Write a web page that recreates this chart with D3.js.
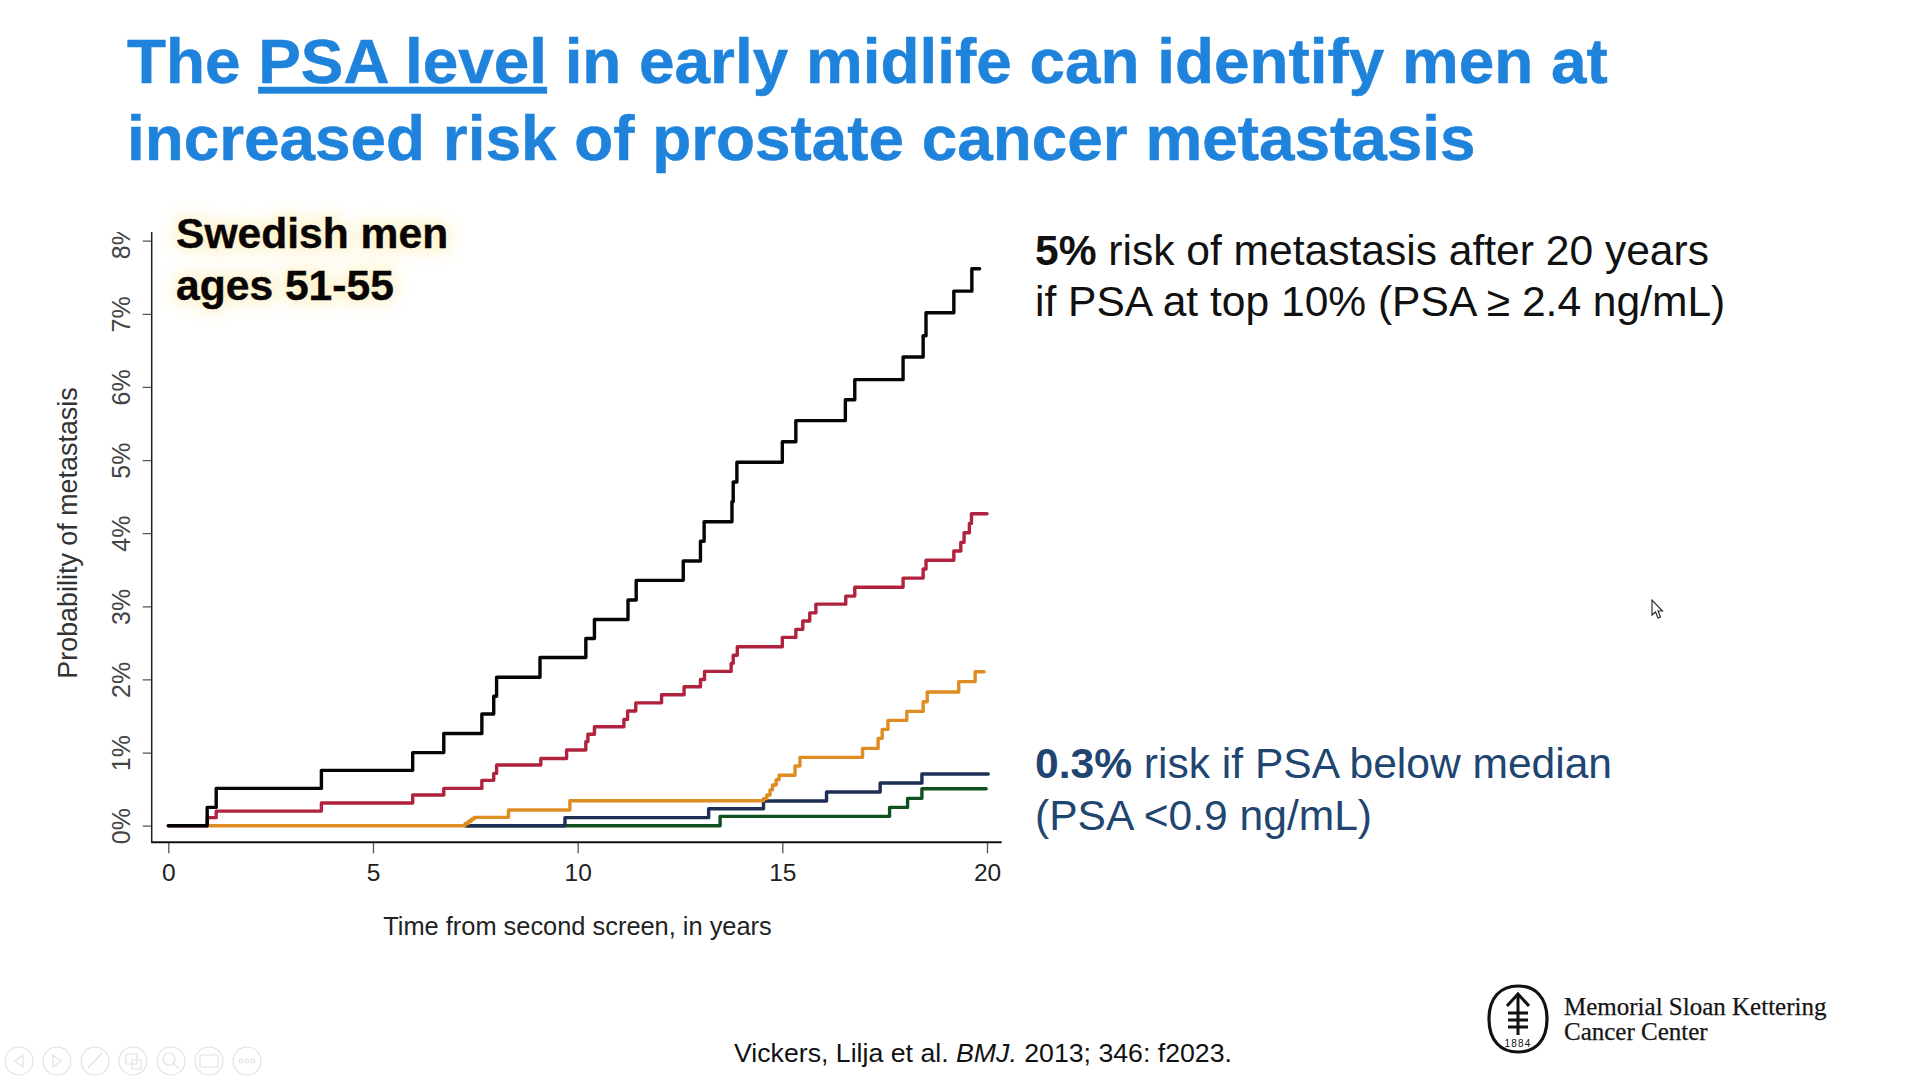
<!DOCTYPE html>
<html><head><meta charset="utf-8">
<script src="https://cdn.jsdelivr.net/npm/d3@7"></script>
<style>
html,body{margin:0;padding:0;background:#fff;}
svg{display:block;}
text{font-family:"Liberation Sans",Arial,sans-serif;}
</style></head><body>
<svg id="c" width="1920" height="1080" viewBox="0 0 1920 1080"></svg>
<script>
const xTicks=[0,5,10,15,20];
const yTicks=[0,1,2,3,4,5,6,7,8];
const blackT=[0,0.95,1.17,3.74,5.97,6.73,7.66,7.95,8.02,9.08,10.2,10.41,11.23,11.43,12.58,13.0,13.09,13.77,13.8,13.89,15.0,15.33,16.54,16.77,17.95,18.44,18.51,19.19,19.63,19.82];
const blackV=[0,0.25,0.51,0.757,1.0,1.26,1.527,1.77,2.03,2.3,2.56,2.82,3.086,3.355,3.62,3.89,4.157,4.43,4.70,4.97,5.25,5.54,5.825,6.10,6.41,6.70,7.015,7.31,7.616,7.616];
const redT=[0,0.95,1.17,3.74,5.97,6.73,7.66,7.95,8.02,9.1,9.73,10.2,10.25,10.41,11.13,11.22,11.42,12.05,12.6,13.0,13.1,13.75,13.8,13.9,15.0,15.33,15.5,15.67,15.82,16.55,16.77,17.95,18.44,18.51,19.19,19.36,19.44,19.57,19.62,20.0];
const redV=[0,0.11,0.2,0.31,0.42,0.51,0.62,0.715,0.83,0.92,1.035,1.15,1.25,1.354,1.454,1.568,1.68,1.79,1.90,2.0,2.11,2.22,2.33,2.448,2.575,2.685,2.80,2.91,3.03,3.14,3.26,3.386,3.51,3.63,3.756,3.874,4.006,4.134,4.266,4.266];
const orangeT=[0.95,7.25,7.33,7.4,7.47,8.31,9.81,14.54,14.62,14.7,14.76,14.85,14.92,15.31,15.43,16.96,17.34,17.44,17.58,18.04,18.44,18.54,19.31,19.71,19.93];
const orangeV=[0,0.03,0.06,0.09,0.114,0.214,0.342,0.37,0.42,0.49,0.556,0.63,0.69,0.816,0.934,1.057,1.194,1.317,1.44,1.563,1.695,1.828,1.97,2.106,2.106];
const navyT=[7.25,9.69,13.2,14.54,16.08,17.39,18.41,20.03];
const navyV=[0,0.11,0.232,0.337,0.46,0.583,0.706,0.706];
const greenT=[7.25,13.48,17.62,18.06,18.41,19.98];
const greenV=[0,0.128,0.25,0.374,0.506,0.506];

const svg=d3.select("#c");
const x=d3.scaleLinear().domain([0,20]).range([168.3,987]);
const y=d3.scaleLinear().domain([0,8]).range([825.7,240.7]);
const defs=svg.append("defs");
// the reference picture is cropped just above the 8% label
defs.append("clipPath").attr("id","yclip").append("rect").attr("x",-100).attr("y",232).attr("width",110).attr("height",700);

// Title
const blue="#1f83dc";
const title=svg.append("text").attr("x",127).attr("y",83).attr("font-size",63.85).attr("font-weight",700).attr("fill",blue).attr("stroke",blue).attr("stroke-width",.5);
title.append("tspan").text("The ");
title.append("tspan").text("PSA level").style("text-decoration","underline");
title.append("tspan").text(" in early midlife can identify men at");
svg.append("text").attr("x",127).attr("y",160).attr("font-size",63.85).attr("font-weight",700).attr("fill",blue).attr("stroke",blue).attr("stroke-width",.5)
  .text("increased risk of prostate cancer metastasis");

// Axes
const axisX=svg.append("g").attr("transform","translate(0,842.3)")
  .call(d3.axisBottom(x).tickValues(xTicks).tickSize(11).tickSizeOuter(0).tickPadding(10));
axisX.select(".domain").remove();
axisX.selectAll("line").attr("stroke","#555").attr("stroke-width",1.3);
axisX.selectAll("text").attr("font-size",24.5).attr("fill","#222").style("font-family",'"Liberation Sans"');
svg.append("line").attr("x1",151).attr("x2",1001.7).attr("y1",842.3).attr("y2",842.3).attr("stroke","#111").attr("stroke-width",2);

const axisY=svg.append("g").attr("transform","translate(151.7,0)").attr("clip-path","url(#yclip)")
  .call(d3.axisLeft(y).tickValues(yTicks).tickFormat(d=>d+"%").tickSize(9).tickSizeOuter(0));
axisY.select(".domain").remove();
axisY.selectAll("line").attr("stroke","#555").attr("stroke-width",1.3);
axisY.selectAll("text").attr("font-size",25).attr("fill","#444").attr("text-anchor","middle")
  .attr("x",null).attr("y",null).attr("dy","0").style("font-family",'"Liberation Sans"')
  .attr("transform","translate(-22,0) rotate(-90)");
svg.append("line").attr("x1",151.7).attr("x2",151.7).attr("y1",232).attr("y2",843).attr("stroke","#222").attr("stroke-width",1.5);

svg.append("text").attr("x",577.5).attr("y",935).attr("text-anchor","middle").attr("font-size",25.4).attr("fill","#222").text("Time from second screen, in years");
svg.append("text").attr("transform","translate(77,533) rotate(-90)").attr("text-anchor","middle").attr("font-size",26.9).attr("fill","#333").text("Probability of metastasis");

// Curves
const line=d3.line().curve(d3.curveStepAfter).x(d=>x(d[0])).y(d=>y(d[1]));
const series=[
 {t:greenT,v:greenV,c:"#0f5220"},
 {t:navyT,v:navyV,c:"#1d2f55"},
 {t:redT,v:redV,c:"#b0233f"},
 {t:orangeT,v:orangeV,c:"#df8d22"},
 {t:blackT,v:blackV,c:"#050505"}
];
svg.append("g").selectAll("path").data(series).join("path")
  .attr("d",s=>line(d3.zip(s.t,s.v))).attr("fill","none").attr("stroke",s=>s.c)
  .attr("stroke-width",3.4).attr("stroke-linejoin","round").attr("stroke-linecap","round");

// Swedish men label with glow
const f=defs.append("filter").attr("id","glow").attr("x","-15%").attr("y","-40%").attr("width","130%").attr("height","180%");
f.append("feGaussianBlur").attr("stdDeviation",8);
const glowLines=[["Swedish men",248],["ages 51-55",300]];
glowLines.forEach(([s,b])=>{
  svg.append("text").attr("x",176).attr("y",b).attr("font-size",42.6).attr("font-weight",700)
    .attr("fill","#fbe9a0").attr("stroke","#fbe9a0").attr("stroke-width",9).attr("filter","url(#glow)").attr("opacity",.5).attr("aria-hidden","true").text(s);
});
glowLines.forEach(([s,b])=>{
  svg.append("text").attr("x",176).attr("y",b).attr("font-size",42.6).attr("font-weight",700).attr("fill","#0a0505").attr("stroke","#0a0505").attr("stroke-width",.4).text(s);
});

// Right annotations
function ann(xp,yp,fill,bold,rest){
  const t=svg.append("text").attr("x",xp).attr("y",yp).attr("font-size",42.55).attr("fill",fill);
  if(bold) t.append("tspan").attr("font-weight",700).text(bold);
  t.append("tspan").text(rest);
}
ann(1035,265,"#111","5%"," risk of metastasis after 20 years");
ann(1035,316,"#111","","if PSA at top 10% (PSA ≥ 2.4 ng/mL)");
ann(1035,778,"#1f4571","0.3%"," risk if PSA below median");
ann(1035,830,"#1f4571","","(PSA <0.9 ng/mL)");

// Citation
const cit=svg.append("text").attr("x",734).attr("y",1062).attr("font-size",26.7).attr("fill","#111");
cit.append("tspan").text("Vickers, Lilja et al. ");
cit.append("tspan").attr("font-style","italic").text("BMJ.");
cit.append("tspan").text(" 2013; 346: f2023.");

// Logo
const lg=svg.append("g").attr("transform","translate(1518,1019)").attr("fill","none").attr("stroke","#111");
lg.append("path").attr("d","M0,-33 C-17,-33 -29,-22 -29,0 C-29,22 -17,33 0,33 C17,33 29,22 29,0 C29,-22 17,-33 0,-33 Z").attr("stroke-width",3.2);
lg.append("path").attr("d","M0,-25 L0,16 M-11,-13 L0,-25 L11,-13 M-10,-6 H10 M-10,1 H10 M-10,8 H10").attr("stroke-width",3);
svg.append("text").attr("x",1518).attr("y",1047).attr("text-anchor","middle").attr("font-size",10).attr("letter-spacing",1.2).attr("fill","#111").text("1884");
const serif='"Liberation Serif",serif';
svg.append("text").attr("x",1564).attr("y",1015).attr("font-size",25).attr("fill","#151515").attr("stroke","#151515").attr("stroke-width",.25).style("font-family",serif).text("Memorial Sloan Kettering");
svg.append("text").attr("x",1564).attr("y",1040).attr("font-size",25).attr("fill","#151515").attr("stroke","#151515").attr("stroke-width",.25).style("font-family",serif).text("Cancer Center");

// Presenter toolbar (faint)
const tb=svg.append("g").attr("fill","none").attr("stroke","#e2e2e2").attr("stroke-width",1.2);
[19,57,95,133,171,209,247].forEach(cx=>tb.append("circle").attr("cx",cx).attr("cy",1061).attr("r",14));
tb.append("path").attr("d","M23,1055 L15,1061 L23,1067 Z M53,1055 L61,1061 L53,1067 Z M88,1068 L102,1053 M126,1054 H137 V1064 H126 Z M132,1060 H141 V1069 H132 Z");
tb.append("circle").attr("cx",169).attr("cy",1059).attr("r",6);
tb.append("path").attr("d","M173,1063 L179,1069 M200,1055 H218 V1067 H200 Z");
[241,247,253].forEach(cx=>tb.append("circle").attr("cx",cx).attr("cy",1061).attr("r",1.8));

// Mouse cursor
svg.append("path").attr("d","M1652,600 L1652,615 L1655.5,612 L1658,618 L1660.5,617 L1658,611 L1662.5,611 Z").attr("fill","#fff").attr("stroke","#222").attr("stroke-width",1.1);
</script>
</body></html>
